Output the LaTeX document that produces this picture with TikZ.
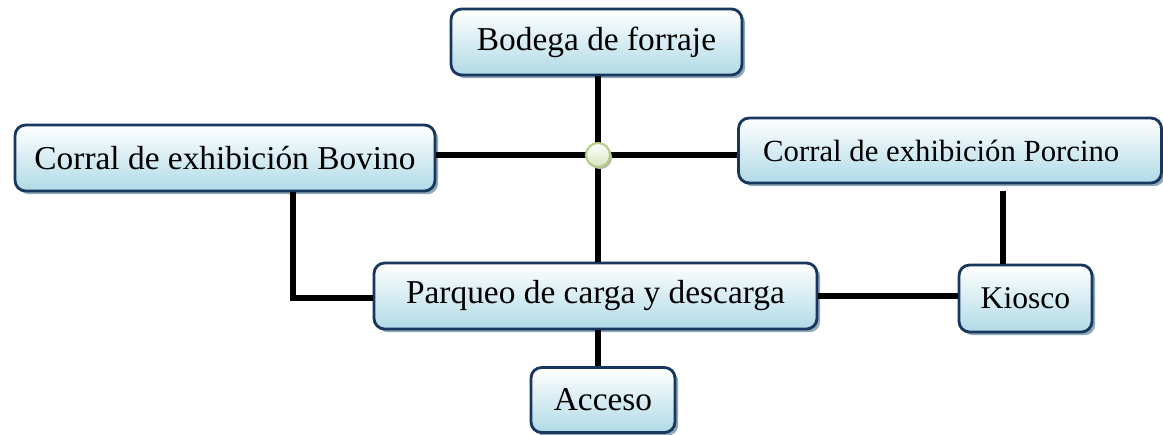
\documentclass[tikz,border=0pt]{standalone}
\usepackage{fontspec}
\setmainfont{Liberation Serif}
\usetikzlibrary{shadows}
\definecolor{boxline}{HTML}{17375E}
\definecolor{boxfill}{HTML}{B0DAE6}
\definecolor{boxshade}{HTML}{8FA9B8}
\definecolor{dotline}{HTML}{B5CC8A}
\definecolor{dotfill}{HTML}{D7E4BD}
\begin{document}
\begin{tikzpicture}[x=0.02cm,y=-0.02cm]
  \tikzstyle{area}=[draw=boxline,line width=1.6pt,rounded corners=6pt,align=center,
    top color=white,bottom color=boxfill,inner sep=0pt,
    drop shadow={shadow xshift=1.8pt,shadow yshift=-1.8pt,fill=boxshade,opacity=1},
    font=\fontsize{19}{22}\selectfont]
  \tikzstyle{link}=[line width=3.4pt]
  \useasboundingbox (0,0) rectangle (1163,434);
  \node[area,minimum width=5.82cm,minimum height=1.32cm] (bodega) at (596.5,42) {Bodega de forraje};
  \node[area,minimum width=8.4cm,minimum height=1.32cm] (bovino) at (225,158) {Corral de exhibición Bovino};
  \node[area,minimum width=8.46cm,minimum height=1.3cm,font=\fontsize{17.5}{20}\selectfont] (porcino) at (950,150.5) {Corral de exhibición Porcino\hspace{0.35cm}};
  \node[area,minimum width=8.86cm,minimum height=1.32cm] (parqueo) at (595.5,296) {Parqueo de carga y descarga};
  \node[area,minimum width=2.66cm,minimum height=1.34cm,font=\fontsize{18}{21}\selectfont] (kiosco) at (1025.5,298.5) {Kiosco};
  \node[area,minimum width=2.88cm,minimum height=1.3cm] (acceso) at (603,400) {Acceso};
  \coordinate (cruce) at (598,155);
  \coordinate (codo) at (293,298);
  % conectores
  \draw[link] (bodega.south -| cruce) -- (parqueo.north -| cruce);
  \draw[link] (bovino.east |- cruce) -- (porcino.west |- cruce);
  \draw[link] (bovino.south -| codo) -- (codo) -- (parqueo.west |- codo);
  \draw[link] ([yshift=-0.14cm]porcino.south -| 1003,0) -- (kiosco.north -| 1003,0);
  \draw[link] (parqueo.east |- 0,296) -- (kiosco.west |- 0,296);
  \draw[link] (parqueo.south -| cruce) -- (acceso.north -| cruce);
  \node[circle,draw=dotline,line width=1.2pt,top color=white,bottom color=dotfill,
    minimum size=0.48cm,inner sep=0pt,
    drop shadow={shadow xshift=1.2pt,shadow yshift=-1.2pt,fill=gray!60,opacity=1}] (nudo) at (cruce) {};
\end{tikzpicture}
\end{document}
